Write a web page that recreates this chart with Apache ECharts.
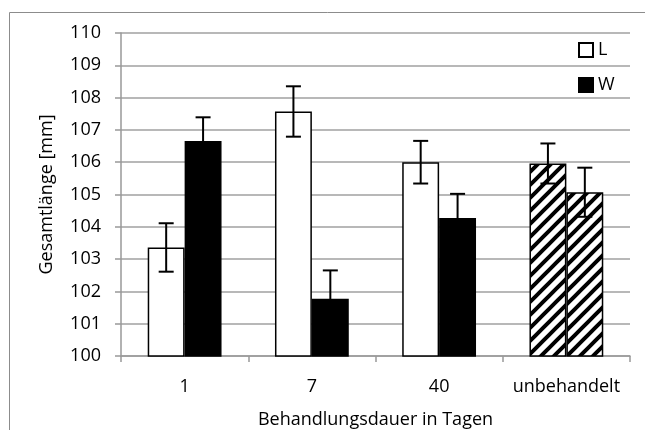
<!DOCTYPE html>
<html>
<head>
<meta charset="utf-8">
<script src="https://cdn.jsdelivr.net/npm/echarts@6/dist/echarts.min.js"></script>
<style>
html,body{margin:0;padding:0;background:#fff;}
#chart{width:645px;height:430px;}
</style>
</head>
<body>
<div id="chart"></div>
<script>
// ---- data ----
const categories = ['1', '7', '40', 'unbehandelt'];
const valuesL = [103.36, 107.57, 106.0, 105.96];
const errorsL = [0.75, 0.78, 0.66, 0.62];
const valuesW = [106.66, 101.77, 104.27, 105.07];
const errorsW = [0.73, 0.88, 0.75, 0.76];
const hatchedIndex = 3; // 'unbehandelt' drawn hatched
const yTicks = [100, 101, 102, 103, 104, 105, 106, 107, 108, 109, 110];

// ---- hatch pattern ----
function makeHatch() {
  const s = 13;
  const c = document.createElement('canvas');
  c.width = s; c.height = s;
  const ctx = c.getContext('2d');
  ctx.fillStyle = '#fff';
  ctx.fillRect(0, 0, s, s);
  ctx.strokeStyle = '#000';
  ctx.lineWidth = 4;
  ctx.beginPath();
  ctx.moveTo(-s, s); ctx.lineTo(s, -s);
  ctx.moveTo(0, s); ctx.lineTo(s, 0);
  ctx.moveTo(0, 2 * s); ctx.lineTo(2 * s, 0);
  ctx.stroke();
  return c;
}
const hatch = { image: makeHatch(), repeat: 'repeat' };

const BAR_FRAC = 0.29;
const FONT = '"Open Sans", sans-serif';
const FS = 18;

function barData(vals, baseStyle) {
  return vals.map((v, i) => i === hatchedIndex
    ? { value: v, itemStyle: { color: hatch, borderColor: '#000', borderWidth: 1.5 } }
    : { value: v, itemStyle: baseStyle });
}

function errorSeries(vals, errs, side) {
  return {
    type: 'custom',
    z: 5,
    silent: true,
    data: vals.map((v, i) => [i, v, errs[i]]),
    renderItem: function (params, api) {
      const cat = api.value(0), v = api.value(1), e = api.value(2);
      const band = api.size([1, 0])[0];
      const off = side * band * BAR_FRAC / 2;
      const top = api.coord([cat, v + e]);
      const bot = api.coord([cat, v - e]);
      const x = top[0] + off;
      const cap = 7.5;
      const st = { stroke: '#000', lineWidth: 2 };
      return {
        type: 'group',
        children: [
          { type: 'line', shape: { x1: x, y1: top[1], x2: x, y2: bot[1] }, style: st },
          { type: 'line', shape: { x1: x - cap, y1: top[1], x2: x + cap, y2: top[1] }, style: st },
          { type: 'line', shape: { x1: x - cap, y1: bot[1], x2: x + cap, y2: bot[1] }, style: st }
        ]
      };
    }
  };
}

const chart = echarts.init(document.getElementById('chart'), null, { renderer: 'canvas' });
chart.setOption({
  animation: false,
  backgroundColor: '#fff',
  textStyle: { fontFamily: FONT },
  graphic: [{
    type: 'rect',
    shape: { x: 9.5, y: 12.5, width: 700, height: 500 },
    style: { fill: 'none', stroke: '#8c8c8c', lineWidth: 1 },
    z: -10
  }],
  grid: { left: 121, right: 15, top: 33, bottom: 74, containLabel: false, outerBoundsMode: 'none' },
  legend: {
    orient: 'vertical',
    left: 578,
    top: 41,
    padding: 0,
    icon: 'rect',
    itemWidth: 14,
    itemHeight: 14,
    itemGap: 17,
    textStyle: { fontSize: FS, color: '#000', fontFamily: FONT },
    data: ['L', 'W']
  },
  xAxis: {
    type: 'category',
    data: categories,
    name: 'Behandlungsdauer in Tagen',
    nameLocation: 'middle',
    nameGap: 55,
    nameTextStyle: { fontSize: FS, color: '#000', fontFamily: FONT },
    axisLine: { lineStyle: { color: '#999', width: 1.5 } },
    axisTick: { show: true, length: 6, alignWithLabel: false, lineStyle: { color: '#999', width: 1.5 } },
    axisLabel: { fontSize: FS, color: '#000', margin: 22, interval: 0, hideOverlap: false, fontFamily: FONT },
    splitLine: { show: false }
  },
  yAxis: {
    type: 'value',
    min: 100,
    max: 110,
    interval: 1,
    name: 'Gesamtlänge [mm]',
    nameLocation: 'middle',
    nameGap: 65,
    nameRotate: 90,
    nameTextStyle: { fontSize: FS, color: '#000', fontFamily: FONT },
    axisLine: { show: true, lineStyle: { color: '#999', width: 1.5 } },
    axisTick: { show: true, length: 6, lineStyle: { color: '#999', width: 1.5 } },
    axisLabel: {
      fontSize: FS, color: '#000', margin: 20, fontFamily: FONT,
      formatter: function (v) { return yTicks.indexOf(v) >= 0 ? String(v) : ''; }
    },
    splitLine: { show: true, lineStyle: { color: '#a0a0a0', width: 1.5 } }
  },
  series: [
    {
      name: 'L', type: 'bar',
      barWidth: (BAR_FRAC * 100) + '%', barGap: '0%',
      itemStyle: { color: '#fff', borderColor: '#000', borderWidth: 1.5 },
      data: barData(valuesL, { color: '#fff', borderColor: '#000', borderWidth: 1.5 })
    },
    {
      name: 'W', type: 'bar',
      barWidth: (BAR_FRAC * 100) + '%', barGap: '0%',
      itemStyle: { color: '#000', borderColor: '#000', borderWidth: 1.5 },
      data: barData(valuesW, { color: '#000', borderColor: '#000', borderWidth: 1.5 })
    },
    errorSeries(valuesL, errorsL, -1),
    errorSeries(valuesW, errorsW, 1)
  ]
});
</script>
</body>
</html>
